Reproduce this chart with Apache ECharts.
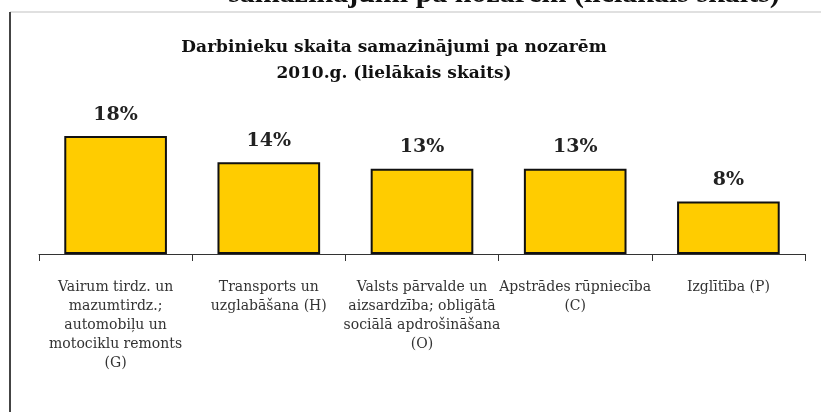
<!DOCTYPE html>
<html>
<head>
<meta charset="utf-8">
<script src="https://cdn.jsdelivr.net/npm/echarts@6/dist/echarts.min.js"></script>
<style>
  html, body { margin: 0; padding: 0; background: #fff; }
  #chart { width: 821px; height: 412px; }
</style>
</head>
<body>
<div id="chart"></div>
<script>
// Categories (NACE sectors) and their share of staff reductions, %
const categories = [
  'Vairum tirdz. un\nmazumtirdz.;\nautomobiļu un\nmotociklu remonts\n(G)',
  'Transports un\nuzglabāšana (H)',
  'Valsts pārvalde un\naizsardzība; obligātā\nsociālā apdrošināšana\n(O)',
  'Apstrādes rūpniecība\n(C)',
  'Izglītība (P)'
];
const values = [18, 14, 13, 13, 8];

const chartTitle = 'Darbinieku skaita samazinājumi pa nozarēm\n2010.g. (lielākais skaits)';
const pageHeading = 'samazinājumi pa nozarēm (lielākais skaits)';

const chart = echarts.init(document.getElementById('chart'));

const option = {
  backgroundColor: '#ffffff',
  animation: false,
  grid: {
    left: 39,
    right: 16,
    top: 123,
    bottom: 158,
    containLabel: false
  },
  xAxis: {
    type: 'category',
    data: categories,
    axisLine: { lineStyle: { color: '#333', width: 1 } },
    axisTick: {
      show: true,
      alignWithLabel: false,
      length: 7,
      lineStyle: { color: '#333' }
    },
    axisLabel: {
      interval: 0,
      margin: 24,
      color: '#333',
      fontFamily: 'DejaVu Serif',
      fontSize: 14,
      lineHeight: 19,
      align: 'center',
      verticalAlign: 'top'
    }
  },
  yAxis: {
    type: 'value',
    min: 0,
    max: 20,
    show: false,
    splitLine: { show: false }
  },
  series: [
    {
      type: 'bar',
      data: values,
      barWidth: '67%',
      itemStyle: {
        color: '#FFCC00',
        borderColor: '#111',
        borderWidth: 2
      },
      label: {
        show: true,
        position: 'top',
        distance: 12,
        formatter: '{c}%',
        fontFamily: 'DejaVu Serif',
        fontWeight: 'bold',
        fontSize: 19,
        color: '#222'
      }
    }
  ],
  graphic: [
    // document heading clipped at the top
    {
      type: 'text',
      x: 504,
      y: 9,
      style: {
        text: pageHeading,
        fill: '#111',
        font: 'bold 30px "Liberation Serif"',
        align: 'center',
        verticalAlign: 'bottom'
      }
    },
    // frame around the chart
    {
      type: 'line',
      shape: { x1: 10, y1: 12, x2: 821, y2: 12 },
      style: { stroke: '#d6d6d6', lineWidth: 1.5 }
    },
    {
      type: 'line',
      shape: { x1: 10, y1: 12, x2: 10, y2: 412 },
      style: { stroke: '#444', lineWidth: 2 }
    },
    // chart title
    {
      type: 'text',
      x: 394,
      y: 35,
      style: {
        text: chartTitle,
        fill: '#111',
        font: 'bold 17px "DejaVu Serif"',
        lineHeight: 26,
        align: 'center',
        verticalAlign: 'top'
      }
    }
  ]
};

chart.setOption(option);
window.addEventListener('resize', () => chart.resize());
</script>
</body>
</html>
